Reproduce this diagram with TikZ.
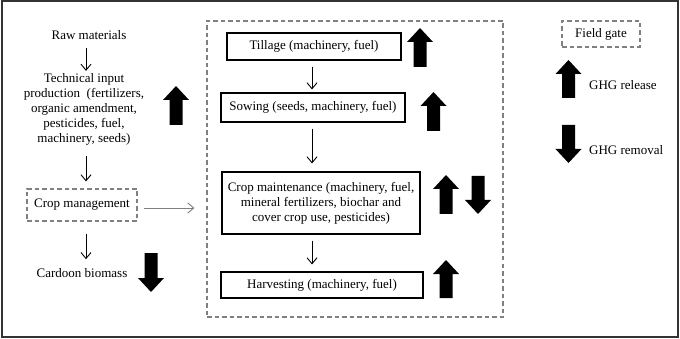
\documentclass[tikz,border=0pt]{standalone}
\usepackage{fontspec}
\setmainfont{Liberation Serif}
\usetikzlibrary{arrows.meta}
\newcommand{\ghgUp}[3]{\fill ({#1},{#2}) -- ({#1+13},{#2+14}) -- ({#1+6.5},{#2+14}) -- ({#1+6.5},{#3}) -- ({#1-6.5},{#3}) -- ({#1-6.5},{#2+14}) -- ({#1-13},{#2+14}) -- cycle;}
\newcommand{\ghgDown}[3]{\fill ({#1},{#3}) -- ({#1+13},{#3-14}) -- ({#1+6.5},{#3-14}) -- ({#1+6.5},{#2}) -- ({#1-6.5},{#2}) -- ({#1-6.5},{#3-14}) -- ({#1-13},{#3-14}) -- cycle;}
\begin{document}
\begin{tikzpicture}[x=1pt,y=-1pt,
  font=\fontsize{13}{15}\selectfont,
  txt/.style={inner sep=0pt, align=center},
  stepbox/.style={draw=black, line width=1.1pt, inner sep=0pt, align=center},
  dashbox/.style={draw=black!50, line width=1.1pt, dash pattern=on 4.5pt off 3pt, inner sep=0pt, align=center},
  arr/.style={-{Straight Barb[length=6pt,width=10pt]}, line width=0.9pt},
  garr/.style={arr, draw=black!50}
]
\useasboundingbox (0,0) rectangle (680,339);
\draw[line width=2pt, draw=black!80] (1.5,1.5) rectangle (677.5,336.5);

% left column
\coordinate (colx) at (86,0);
\node[txt] (raw) at (89,35) {Raw materials};
\node[txt] (tech) at (84,109) {Technical input\\production\ \ (fertilizers,\\organic amendment,\\pesticides, fuel,\\machinery, seeds)};
\node[dashbox, minimum width=110pt, minimum height=32pt] (crop) at (82,205) {Crop management};
\node[txt] (cardoon) at (82,273) {Cardoon biomass};

\draw[arr, shorten <=8pt, shorten >=2pt] (raw.south -| colx) -- (tech.north -| colx);
\draw[arr, shorten <=11pt, shorten >=7pt] (tech.south -| colx) -- (crop.north -| colx);
\draw[arr, shorten <=12pt, shorten >=9pt] (crop.south -| colx) -- (cardoon.north -| colx);

% field box
\node[dashbox, minimum width=296pt, minimum height=296pt] (field) at (355,169) {};
\draw[garr, shorten <=6pt, shorten >=12pt] ([yshift=-3pt]crop.east) -- ([yshift=-3pt]crop.east -| field.west);

% middle column
\coordinate (midx) at (312,0);
\node[stepbox, minimum width=174pt, minimum height=27pt] (till) at (314,46.5) {Tillage (machinery, fuel)};
\node[stepbox, minimum width=184pt, minimum height=29pt] (sow) at (313,107.5) {Sowing (seeds, machinery, fuel)};
\node[stepbox, minimum width=198pt, minimum height=62pt] (maint) at (321,203) {Crop maintenance (machinery, fuel,\\mineral fertilizers, biochar and\\cover crop use, pesticides)};
\node[stepbox, minimum width=202pt, minimum height=26pt] (harv) at (322,285) {Harvesting (machinery, fuel)};

\draw[arr, shorten <=6pt, shorten >=3pt] (till.south -| midx) -- (sow.north -| midx);
\draw[arr, shorten <=6pt, shorten >=8pt] (sow.south -| midx) -- (maint.north -| midx);
\draw[arr, shorten <=6pt, shorten >=7pt] (maint.south -| midx) -- (harv.north -| midx);

% legend
\node[dashbox, minimum width=78pt, minimum height=26pt] (gate) at (601,34) {Field gate};
\node[txt, anchor=west] (rel) at (589,85) {GHG release};
\node[txt, anchor=west] (rem) at (589,150) {GHG removal};

% GHG arrows
\ghgUp{176}{86}{125}
\ghgDown{151}{253}{292}
\ghgUp{420}{28}{67}
\ghgUp{433.5}{92}{131}
\ghgUp{446}{175}{214}
\ghgDown{478}{176}{214}
\ghgUp{446}{260}{298}
\ghgUp{568.5}{60}{98}
\ghgDown{568.5}{125}{163}
\end{tikzpicture}
\end{document}
